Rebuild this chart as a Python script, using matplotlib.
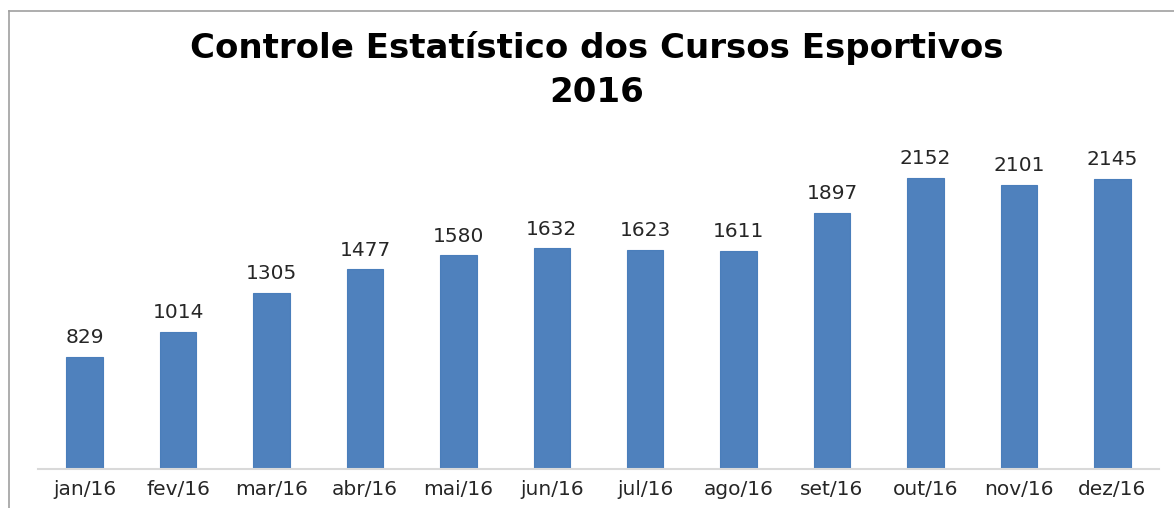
import matplotlib
matplotlib.use("Agg")
import matplotlib.pyplot as plt
from matplotlib.lines import Line2D

months = ["jan/16", "fev/16", "mar/16", "abr/16", "mai/16", "jun/16",
          "jul/16", "ago/16", "set/16", "out/16", "nov/16", "dez/16"]
values = [829, 1014, 1305, 1477, 1580, 1632, 1623, 1611, 1897, 2152, 2101, 2145]
title = "Controle Estatístico dos Cursos Esportivos\n2016"

W, H = 1174, 508
fig = plt.figure(figsize=(W / 100, H / 100), dpi=100)
fig.patch.set_facecolor("white")

# axes: left 38px, right 1159px, bottom baseline y=469, top y=131
ax = fig.add_axes([38 / W, (H - 469) / H, (1159 - 38) / W, (469 - 131) / H])
x = list(range(len(months)))
ax.bar(x, values, width=0.39, color="#4F81BD", edgecolor="#4A7EBB", linewidth=0.8)
ax.set_xlim(-0.5, len(months) - 0.5)
ax.set_ylim(0, 2500)

for xi, v in zip(x, values):
    ax.annotate(str(v), (xi, v), xytext=(0, 7), textcoords="offset points",
                ha="center", va="bottom", fontsize=14.5, color="#262626",
                family="DejaVu Sans")

ax.set_xticks(x)
ax.set_xticklabels(months, fontsize=14.5, color="#262626", family="DejaVu Sans")
ax.tick_params(axis="x", length=0, pad=8)
ax.set_yticks([])
for s in ["left", "right", "top"]:
    ax.spines[s].set_visible(False)
ax.spines["bottom"].set_color("#D9D9D9")
ax.spines["bottom"].set_linewidth(1.5)

fig.text(597 / W, 1 - 70 / H, title, ha="center", va="center", fontsize=24.5,
         fontweight="bold", family="DejaVu Sans", linespacing=1.4, color="black")

# chart border (left and top)
fig.add_artist(Line2D([9 / W, 9 / W], [0, 1 - 11 / H], transform=fig.transFigure,
                      color="#A0A0A0", linewidth=1.2))
fig.add_artist(Line2D([9 / W, 1], [1 - 11 / H, 1 - 11 / H], transform=fig.transFigure,
                      color="#A0A0A0", linewidth=1.2))

fig.savefig("out.png", dpi=100, facecolor="white")
